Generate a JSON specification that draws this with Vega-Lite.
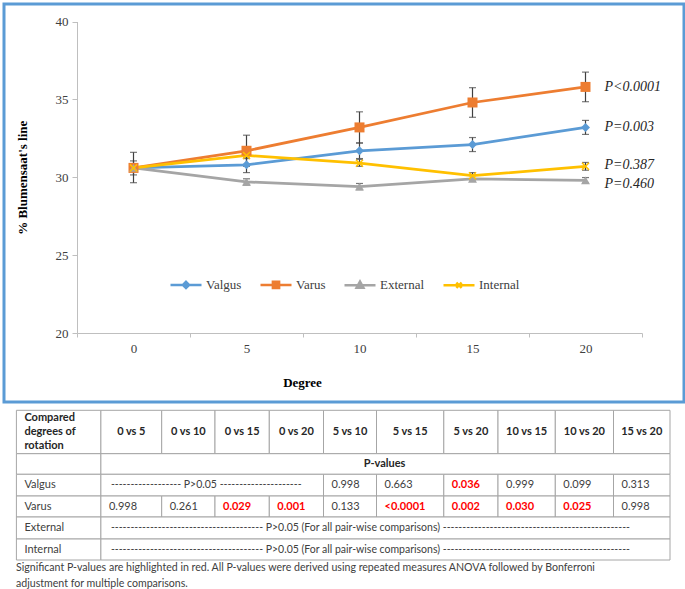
{
  "$schema": "https://vega.github.io/schema/vega-lite/v6.json",
  "padding": {"left": 2, "top": 2, "right": 0, "bottom": 0},
  "background": "white",
  "spacing": 5,
  "config": {"view": {"stroke": null}, "axis": {"grid": false}},
  "datasets": {
    "series": [
      {"series": "Valgus", "degree": 0, "value": 30.6, "lo": 30.15, "hi": 31.05},
      {"series": "Valgus", "degree": 5, "value": 30.8, "lo": 30.3, "hi": 31.3},
      {"series": "Valgus", "degree": 10, "value": 31.7, "lo": 31.2, "hi": 32.2},
      {"series": "Valgus", "degree": 15, "value": 32.1, "lo": 31.65, "hi": 32.55},
      {"series": "Valgus", "degree": 20, "value": 33.2, "lo": 32.75, "hi": 33.65},
      {"series": "Varus", "degree": 0, "value": 30.6, "lo": 29.65, "hi": 31.6},
      {"series": "Varus", "degree": 5, "value": 31.7, "lo": 30.7, "hi": 32.7},
      {"series": "Varus", "degree": 10, "value": 33.2, "lo": 32.2, "hi": 34.2},
      {"series": "Varus", "degree": 15, "value": 34.8, "lo": 33.85, "hi": 35.75},
      {"series": "Varus", "degree": 20, "value": 35.8, "lo": 34.85, "hi": 36.75},
      {"series": "External", "degree": 0, "value": 30.6, "lo": 30.4, "hi": 30.8},
      {"series": "External", "degree": 5, "value": 29.7, "lo": 29.5, "hi": 29.9},
      {"series": "External", "degree": 10, "value": 29.4, "lo": 29.2, "hi": 29.6},
      {"series": "External", "degree": 15, "value": 29.9, "lo": 29.75, "hi": 30.1},
      {"series": "External", "degree": 20, "value": 29.8, "lo": 29.62, "hi": 29.98},
      {"series": "Internal", "degree": 0, "value": 30.6, "lo": 30.4, "hi": 30.8},
      {"series": "Internal", "degree": 5, "value": 31.4, "lo": 31.2, "hi": 31.6},
      {"series": "Internal", "degree": 10, "value": 30.9, "lo": 30.7, "hi": 31.15},
      {"series": "Internal", "degree": 15, "value": 30.1, "lo": 29.9, "hi": 30.3},
      {"series": "Internal", "degree": 20, "value": 30.7, "lo": 30.45, "hi": 30.95}
    ],
    "plabels": [
      {"degree": 20, "value": 35.78, "label": "P<0.0001"},
      {"degree": 20, "value": 33.24, "label": "P=0.003"},
      {"degree": 20, "value": 30.78, "label": "P=0.387"},
      {"degree": 20, "value": 29.56, "label": "P=0.460"}
    ],
    "cells": [
      {"c0": 0, "c1": 1, "r0": 0, "r1": 1}, {"c0": 1, "c1": 2, "r0": 0, "r1": 1}, {"c0": 2, "c1": 3, "r0": 0, "r1": 1},
      {"c0": 3, "c1": 4, "r0": 0, "r1": 1}, {"c0": 4, "c1": 5, "r0": 0, "r1": 1}, {"c0": 5, "c1": 6, "r0": 0, "r1": 1},
      {"c0": 6, "c1": 7, "r0": 0, "r1": 1}, {"c0": 7, "c1": 8, "r0": 0, "r1": 1}, {"c0": 8, "c1": 9, "r0": 0, "r1": 1},
      {"c0": 9, "c1": 10, "r0": 0, "r1": 1}, {"c0": 10, "c1": 11, "r0": 0, "r1": 1},
      {"c0": 0, "c1": 1, "r0": 1, "r1": 2}, {"c0": 1, "c1": 11, "r0": 1, "r1": 2},
      {"c0": 0, "c1": 1, "r0": 2, "r1": 3}, {"c0": 1, "c1": 5, "r0": 2, "r1": 3}, {"c0": 5, "c1": 6, "r0": 2, "r1": 3},
      {"c0": 6, "c1": 7, "r0": 2, "r1": 3}, {"c0": 7, "c1": 8, "r0": 2, "r1": 3}, {"c0": 8, "c1": 9, "r0": 2, "r1": 3},
      {"c0": 9, "c1": 10, "r0": 2, "r1": 3}, {"c0": 10, "c1": 11, "r0": 2, "r1": 3},
      {"c0": 0, "c1": 1, "r0": 3, "r1": 4}, {"c0": 1, "c1": 2, "r0": 3, "r1": 4}, {"c0": 2, "c1": 3, "r0": 3, "r1": 4},
      {"c0": 3, "c1": 4, "r0": 3, "r1": 4}, {"c0": 4, "c1": 5, "r0": 3, "r1": 4}, {"c0": 5, "c1": 6, "r0": 3, "r1": 4},
      {"c0": 6, "c1": 7, "r0": 3, "r1": 4}, {"c0": 7, "c1": 8, "r0": 3, "r1": 4}, {"c0": 8, "c1": 9, "r0": 3, "r1": 4},
      {"c0": 9, "c1": 10, "r0": 3, "r1": 4}, {"c0": 10, "c1": 11, "r0": 3, "r1": 4},
      {"c0": 0, "c1": 1, "r0": 4, "r1": 5}, {"c0": 1, "c1": 11, "r0": 4, "r1": 5},
      {"c0": 0, "c1": 1, "r0": 5, "r1": 6}, {"c0": 1, "c1": 11, "r0": 5, "r1": 6}
    ],
    "hdr": [
      {"c": 1.5, "r": 0.5, "t": "0 vs 5"}, {"c": 2.5, "r": 0.5, "t": "0 vs 10"}, {"c": 3.5, "r": 0.5, "t": "0 vs 15"},
      {"c": 4.5, "r": 0.5, "t": "0 vs 20"}, {"c": 5.5, "r": 0.5, "t": "5 vs 10"}, {"c": 6.5, "r": 0.5, "t": "5 vs 15"},
      {"c": 7.5, "r": 0.5, "t": "5 vs 20"}, {"c": 8.5, "r": 0.5, "t": "10 vs 15"}, {"c": 9.5, "r": 0.5, "t": "10 vs 20"},
      {"c": 10.5, "r": 0.5, "t": "15 vs 20"}, {"c": 6.12, "r": 1.5, "t": "P-values"}
    ],
    "hdrleft": [
      {"c": 0, "r": 0.5, "t": ["Compared", "degrees of", "rotation"]}
    ],
    "body": [
      {"c": 0, "r": 2.5, "t": "Valgus"}, {"c": 0, "r": 3.5, "t": "Varus"},
      {"c": 0, "r": 4.5, "t": "External"}, {"c": 0, "r": 5.5, "t": "Internal"},
      {"c": 5, "r": 2.5, "t": "0.998"}, {"c": 6, "r": 2.5, "t": "0.663"}, {"c": 8, "r": 2.5, "t": "0.999"},
      {"c": 9, "r": 2.5, "t": "0.099"}, {"c": 10, "r": 2.5, "t": "0.313"},
      {"c": 1, "r": 3.5, "t": "0.998"}, {"c": 2, "r": 3.5, "t": "0.261"}, {"c": 5, "r": 3.5, "t": "0.133"}, {"c": 10, "r": 3.5, "t": "0.998"}
    ],
    "spans": [
      {"c": 1, "r": 2.5, "t": "------------------ P>0.05 ---------------------"},
      {"c": 1, "r": 4.5, "t": "--------------------------------------- P>0.05 (For all pair-wise comparisons) ------------------------------------------------"},
      {"c": 1, "r": 5.5, "t": "--------------------------------------- P>0.05 (For all pair-wise comparisons) ------------------------------------------------"}
    ],
    "sig": [
      {"c": 7, "r": 2.5, "t": "0.036"},
      {"c": 3, "r": 3.5, "t": "0.029"}, {"c": 4, "r": 3.5, "t": "0.001"}, {"c": 6, "r": 3.5, "t": "<0.0001"},
      {"c": 7, "r": 3.5, "t": "0.002"}, {"c": 8, "r": 3.5, "t": "0.030"}, {"c": 9, "r": 3.5, "t": "0.025"}
    ]
  },
  "vconcat": [
    {
      "width": 680,
      "height": 398,
      "view": {"stroke": "#5B9BD5", "strokeWidth": 3},
      "data": {"name": "series"},
      "encoding": {
        "x": {
          "field": "degree", "type": "ordinal",
          "scale": {"type": "band", "range": [73, 638], "paddingInner": 0, "paddingOuter": 0},
          "axis": {
            "title": "Degree", "offset": -69, "tickBand": "extent", "labelAngle": 0,
            "labelFont": "Liberation Serif", "labelFontSize": 13, "labelColor": "#404040", "labelPadding": 5,
            "tickSize": 4, "tickColor": "#BFBFBF", "domainColor": "#BFBFBF",
            "titleFont": "Liberation Serif", "titleFontSize": 13, "titleFontWeight": "bold", "titleColor": "#000000",
            "titleX": 298, "titleY": 49, "titleAlign": "center", "titleBaseline": "middle"
          }
        }
      },
      "layer": [
        {
          "mark": {"type": "rule", "color": "#404040", "strokeWidth": 1.2},
          "encoding": {
            "y": {
              "field": "lo", "type": "quantitative", "title": "% Blumensaat's line",
              "scale": {"domain": [20, 40], "range": [329, 17.5], "zero": false, "nice": false},
              "axis": {
                "values": [20, 25, 30, 35, 40], "offset": -73,
                "labelFont": "Liberation Serif", "labelFontSize": 13, "labelColor": "#404040", "labelPadding": 4,
                "tickSize": 5, "tickColor": "#BFBFBF", "domainColor": "#BFBFBF",
                "titleFont": "Liberation Serif", "titleFontSize": 13, "titleFontWeight": "bold", "titleColor": "#000000",
                "titleX": -55, "titleBaseline": "middle"
              }
            },
            "y2": {"field": "hi"}
          }
        },
        {
          "mark": {"type": "tick", "color": "#404040", "thickness": 1.2, "size": 7},
          "encoding": {"y": {"field": "lo", "type": "quantitative", "title": "% Blumensaat's line"}}
        },
        {
          "mark": {"type": "tick", "color": "#404040", "thickness": 1.2, "size": 7},
          "encoding": {"y": {"field": "hi", "type": "quantitative", "title": "% Blumensaat's line"}}
        },
        {
          "mark": {"type": "line", "strokeWidth": 2.75},
          "encoding": {
            "y": {"field": "value", "type": "quantitative", "title": "% Blumensaat's line"},
            "color": {
              "field": "series", "type": "nominal",
              "scale": {"domain": ["Valgus", "Varus", "External", "Internal"], "range": ["#5B9BD5", "#ED7D31", "#A5A5A5", "#FFC000"]},
              "legend": {
                "orient": "none", "legendX": 165, "legendY": 263.5, "direction": "horizontal", "title": null,
                "padding": 0, "symbolSize": 961, "symbolStrokeWidth": 2.5,
                "labelFont": "Liberation Serif", "labelFontSize": 13, "labelColor": "#404040",
                "labelOffset": 3, "columnPadding": 13,
                "encode": {
                  "symbols": {
                    "update": {
                      "shape": {"signal": "datum.value === 'Valgus' ? 'M-1,0H1M0,-0.2L0.2,0L0,0.2L-0.2,0Z' : datum.value === 'Varus' ? 'M-1,0H1M-0.2,-0.2H0.2V0.2H-0.2Z' : datum.value === 'External' ? 'M-1,0H1M0,-0.24L0.22,0.16H-0.22Z' : 'M-1,0H1M-0.17,-0.17L0.17,0.17M-0.17,0.17L0.17,-0.17'"},
                      "fill": {"scale": "color", "field": "value"},
                      "stroke": {"scale": "color", "field": "value"},
                      "strokeWidth": {"value": 2.5},
                      "opacity": {"value": 1}
                    }
                  }
                }
              }
            }
          }
        },
        {
          "transform": [{"filter": "datum.series === 'Valgus'"}],
          "mark": {"type": "point", "shape": "diamond", "size": 80, "filled": true, "opacity": 1, "color": "#5B9BD5"},
          "encoding": {"y": {"field": "value", "type": "quantitative", "title": "% Blumensaat's line"}}
        },
        {
          "transform": [{"filter": "datum.series === 'Varus'"}],
          "mark": {"type": "point", "shape": "square", "size": 100, "filled": true, "opacity": 1, "color": "#ED7D31"},
          "encoding": {"y": {"field": "value", "type": "quantitative", "title": "% Blumensaat's line"}}
        },
        {
          "transform": [{"filter": "datum.series === 'External'"}],
          "mark": {"type": "point", "shape": "triangle-up", "size": 80, "filled": true, "opacity": 1, "color": "#A5A5A5"},
          "encoding": {"y": {"field": "value", "type": "quantitative", "title": "% Blumensaat's line"}}
        },
        {
          "transform": [{"filter": "datum.series === 'Internal'"}],
          "mark": {"type": "point", "shape": "M-1,-1L1,1M-1,1L1,-1", "size": 50, "filled": false, "strokeWidth": 1.5, "opacity": 1, "color": "#FFC000"},
          "encoding": {"y": {"field": "value", "type": "quantitative", "title": "% Blumensaat's line"}}
        },
        {
          "data": {"name": "plabels"},
          "mark": {"type": "text", "font": "Liberation Serif", "fontSize": 14, "fontStyle": "italic", "align": "left", "baseline": "middle", "dx": 19, "color": "#262626"},
          "encoding": {
            "y": {"field": "value", "type": "quantitative", "title": "% Blumensaat's line"},
            "text": {"field": "label"}
          }
        }
      ]
    },
    {
      "width": 666,
      "height": 150,
      "title": {
        "text": ["Significant P-values are highlighted in red.  All P-values were derived using repeated measures ANOVA followed by Bonferroni", "adjustment for multiple comparisons."],
        "orient": "bottom", "anchor": "start", "font": "Lato", "fontSize": 10.6, "fontWeight": "normal",
        "color": "#404040", "offset": 2, "dx": 12, "lineHeight": 16
      },
      "layer": [
        {
          "data": {"name": "cells"},
          "mark": {"type": "rect", "fill": "white", "stroke": "#A6A6A6", "strokeWidth": 1},
          "encoding": {
            "x": {"field": "c0", "type": "quantitative", "axis": null,
              "scale": {"domain": [0, 1, 2, 3, 4, 5, 6, 7, 8, 9, 10, 11], "range": [12.4, 96.9, 157.7, 211, 265.3, 319.5, 372.5, 439.8, 494, 551.3, 609.5, 666], "zero": false, "nice": false}},
            "x2": {"field": "c1"},
            "y": {"field": "r0", "type": "quantitative", "axis": null,
              "scale": {"domain": [0, 1, 2, 3, 4, 5, 6], "range": [0.3, 43.7, 64.3, 86, 107, 129, 150], "zero": false, "nice": false}},
            "y2": {"field": "r1"}
          }
        },
        {
          "data": {"name": "hdr"},
          "mark": {"type": "text", "font": "Lato", "fontSize": 11, "fontWeight": "bold", "color": "#262626", "align": "center", "baseline": "middle"},
          "encoding": {
            "x": {"field": "c", "type": "quantitative", "axis": null},
            "y": {"field": "r", "type": "quantitative", "axis": null},
            "text": {"field": "t"}
          }
        },
        {
          "data": {"name": "hdrleft"},
          "mark": {"type": "text", "font": "Lato", "fontSize": 11, "fontWeight": "bold", "color": "#262626", "align": "left", "baseline": "middle", "dx": 8, "dy": -14.2, "lineHeight": 14.2},
          "encoding": {
            "x": {"field": "c", "type": "quantitative", "axis": null},
            "y": {"field": "r", "type": "quantitative", "axis": null},
            "text": {"field": "t"}
          }
        },
        {
          "data": {"name": "body"},
          "mark": {"type": "text", "font": "Lato", "fontSize": 11, "color": "#404040", "align": "left", "baseline": "middle", "dx": 8},
          "encoding": {
            "x": {"field": "c", "type": "quantitative", "axis": null},
            "y": {"field": "r", "type": "quantitative", "axis": null},
            "text": {"field": "t"}
          }
        },
        {
          "data": {"name": "spans"},
          "mark": {"type": "text", "font": "Lato", "fontSize": 10.5, "color": "#404040", "align": "left", "baseline": "middle", "dx": 10},
          "encoding": {
            "x": {"field": "c", "type": "quantitative", "axis": null},
            "y": {"field": "r", "type": "quantitative", "axis": null},
            "text": {"field": "t"}
          }
        },
        {
          "data": {"name": "sig"},
          "mark": {"type": "text", "font": "Lato", "fontSize": 11, "fontWeight": "bold", "color": "#FF0000", "align": "left", "baseline": "middle", "dx": 8},
          "encoding": {
            "x": {"field": "c", "type": "quantitative", "axis": null},
            "y": {"field": "r", "type": "quantitative", "axis": null},
            "text": {"field": "t"}
          }
        }
      ]
    }
  ]
}
